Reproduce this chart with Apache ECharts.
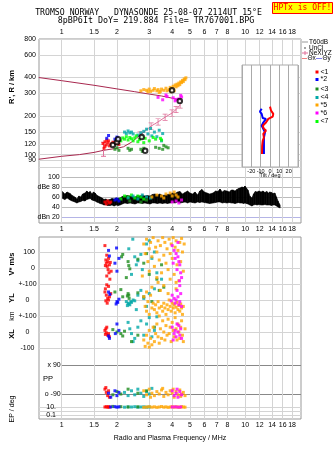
<!DOCTYPE html>
<html><head><meta charset="utf-8">
<script src="https://cdn.jsdelivr.net/npm/echarts@6.0.0/dist/echarts.min.js"></script>
<style>html,body{margin:0;padding:0;background:#fff;}#chart{width:335px;height:451px;}</style>
</head><body><div id="chart"></div>
<script>
// ---------------- tick labels ----------------
const freqTicks = [1, 1.5, 2, 3, 4, 5, 6, 7, 8, 10, 12, 14, 16, 18];
const heightTicks = [80, 90, 100, 120, 150, 200, 300, 400, 600, 800];
const tiltTicks = [-20, -10, 0, 10, 20];

// ---------------- R' panel (freq MHz, height km) ----------------
const profileUpper = [[0.75,400],[1,378],[1.5,348],[2,326],[2.5,310],[3,297],[3.5,287],[4,276],[4.5,265]];
const profileLower = [[0.75,92],[1,97],[1.25,100],[1.5,104],[1.69,108],[2,112],[2.17,115],[2.4,125],[2.67,142],[2.85,152]];
const neXIYZ = [[2.67,142],[3.07,167],[3.35,180],[3.66,196],[3.99,211],[4.2,225],[4.42,244]];
const neErrBar = [[1.69,97],[1.69,125]];
const rRed = [[1.68,122],[1.72,126],[1.75,119],[1.78,124],[1.72,116],[1.80,128],[1.85,121],[1.9,125],[1.95,124],[2.0,122],[2.05,120],[1.76,130],[1.7,112],[1.82,117]];
const rBlue = [[1.8,141],[1.76,134],[2.0,137],[1.95,132],[2.02,130]];
const rLime = [[2.1,128],[2.15,135],[2.2,132],[2.25,138],[2.3,130],[2.35,136],[2.4,133],[2.45,128],[2.5,135],[2.55,140],[2.6,126],[2.65,131],[2.75,138],[2.8,124],[2.85,134],[3.0,128],[3.15,136],[3.25,132],[3.45,134],[3.5,130]];
const rTeal = [[2.2,150],[2.25,146],[2.3,153],[2.35,148],[2.4,150],[2.45,145],[2.6,142],[2.7,148],[2.8,152],[2.9,158],[2.95,145],[3.05,160],[3.1,140],[3.2,150],[3.3,138],[3.4,155],[3.5,128],[3.55,146]];
const rDkGreen = [[1.95,110],[2.0,113],[2.05,108],[2.3,112],[2.35,108],[2.4,110],[2.7,110],[2.75,106],[2.8,112],[3.25,114],[3.4,112],[3.55,110],[3.6,118],[3.7,115],[3.8,113]];
const rOrange = [[2.7,315],[2.8,322],[2.9,318],[2.95,310],[3.0,325],[3.05,312],[3.15,318],[3.2,328],[3.3,315],[3.35,322],[3.4,305],[3.45,312],[3.5,325],[3.6,318],[3.7,330],[3.75,315],[3.85,322],[3.9,335],[3.95,310],[4.0,328],[4.05,342],[4.1,315],[4.15,350],[4.2,338],[4.25,355],[4.3,345],[4.35,362],[4.4,352],[4.45,370],[4.5,365],[4.55,380],[4.6,372],[4.65,390],[4.7,385],[4.75,398]];
const rMagenta = [[3.35,280],[3.55,268],[3.7,292],[3.75,284],[4.05,278],[4.15,263],[4.2,270],[4.35,272],[4.45,290],[4.5,282]];
const rBlack = [[1.9,119],[2.0,125],[2.03,132],[2.73,137],[2.85,107],[3.99,318],[4.4,262]];

// ---------------- tilt inset (deg, height km) ----------------
const thetaX = [[0,237],[1.1,221],[3.5,208],[2.9,198],[-1.8,190],[-4.3,178],[-7.8,168],[-6.5,159],[-4.3,154],[-7.2,145],[-6.5,136],[-7.8,128],[-8.4,117],[-8.6,101]];
const thetaY = [[-8.9,228],[-10.8,217],[-8.9,208],[-7.8,193],[-4.3,190],[-7.2,178],[-8.9,168],[-7.2,159],[-5.4,149],[-6.5,136],[-6.5,117],[-6.5,101]];

// ---------------- amplitude panel (freq, low dB, high dB) ----------------
const t60Band = [[1.01,57,71],[1.04,55,66],[1.07,58,70],[1.11,54,67],[1.14,52,63],[1.18,50,60],[1.21,48,56],[1.24,50,62],[1.27,51,60],[1.30,53,66],[1.34,52,68],[1.37,55,72],[1.40,56,69],[1.43,57,71],[1.46,54,66],[1.49,53,70],[1.52,52,68],[1.55,50,64],[1.58,49,62],[1.62,47,60],[1.66,46,58],[1.70,44,55],[1.74,45,56],[1.78,43,54],[1.83,43,55],[1.88,44,57],[1.93,42,56],[1.98,44,58],[2.03,43,57],[2.08,44,58],[2.14,46,61],[2.21,48,62],[2.28,47,63],[2.36,48,62],[2.43,47,61],[2.51,46,60],[2.59,48,63],[2.67,48,62],[2.75,47,64],[2.84,48,62],[2.93,47,63],[3.03,46,62],[3.12,48,65],[3.22,48,66],[3.32,47,64],[3.43,48,66],[3.54,47,63],[3.66,48,64],[3.77,47,65],[3.89,48,66],[4.02,49,68],[4.15,48,67],[4.28,50,70],[4.41,48,71],[4.55,49,66],[4.70,50,69],[4.85,48,72],[5.0,50,68],[5.16,49,66],[5.33,48,70],[5.5,50,64],[5.65,49,72],[5.8,50,75],[6.0,49,70],[6.19,48,68],[6.4,47,66],[6.67,48,68],[6.9,49,72],[7.1,50,71],[7.29,50,76],[7.5,48,70],[7.7,49,73],[7.95,48,72],[8.2,49,70],[8.4,48,74],[8.58,48,74],[8.8,47,72],[9.0,48,75],[9.2,49,77],[9.36,48,78],[9.6,48,80],[9.8,47,79],[9.97,48,82],[10.15,47,78],[10.35,46,74],[10.6,44,62],[10.88,42,58],[11.1,44,66],[11.35,45,71],[11.6,44,70],[11.9,45,72],[12.2,44,70],[12.5,44,72],[12.8,45,69],[13.1,44,71],[13.4,44,68],[13.6,44,70],[13.9,43,69],[14.2,44,67],[14.5,44,68],[14.8,42,60],[15.1,40,52],[15.3,39,47],[15.5,38,44]];
const dbRed = [[1.72,50],[1.75,46],[1.78,52],[1.82,48],[1.85,50]];
const dbBlue = [[1.95,54],[2.0,56],[2.05,52]];
const dbLime = [[2.1,56],[2.2,62],[2.3,60],[2.4,64],[2.5,58],[2.6,62],[2.7,60],[2.8,56]];
const dbTeal = [[2.3,58],[2.45,62],[2.6,56],[2.75,64],[2.9,60],[3.05,58]];
const dbDkGreen = [[2.35,52],[2.7,50],[2.9,54]];
const dbOrange = [[3.1,60],[3.3,64],[3.5,62],[3.6,58],[3.7,66],[3.9,68],[4.0,62],[4.1,70],[4.2,64],[4.3,60]];
const dbMagenta = [[4.0,50],[4.2,52],[4.35,48],[4.5,54]];

// ---------------- V* (m/s) ----------------
const vRed = [[1.72,140],[1.76,80],[1.74,50],[1.78,40],[1.80,60],[1.75,30],[1.82,20],[1.77,10],[1.84,35],[1.79,-10],[1.81,-30],[1.76,-50],[1.83,-70],[1.86,-20],[1.73,15]];
const vBlue = [[1.80,110],[1.82,75],[1.99,125],[2.05,60],[2.0,-20],[1.95,30]];
const vDkGreen = [[2.12,70],[2.15,85],[2.3,40],[2.32,15],[2.35,-5],[2.25,-60],[2.6,55],[2.8,30],[2.9,90],[3.0,-40],[3.3,-70],[3.5,20]];
const vTeal = [[2.32,120],[2.44,180],[2.5,70],[2.6,45],[2.7,85],[2.55,20],[2.9,150],[3.0,170],[3.1,60],[3.3,-30],[3.5,-70],[2.75,-10],[3.2,100],[2.4,-40]];
const vOrange = [[2.75,-50],[2.8,150],[2.85,90],[2.9,180],[2.95,40],[3.0,120],[3.0,-20],[3.05,160],[3.1,70],[3.15,190],[3.2,10],[3.25,130],[3.3,100],[3.3,-60],[3.35,170],[3.35,-90],[3.4,50],[3.45,140],[3.5,-30],[3.55,190],[3.6,80],[3.65,160],[3.7,30],[3.75,120],[3.8,-10],[3.85,180],[3.9,90],[3.9,-70],[3.95,150],[4.0,60],[4.05,190],[4.1,-40],[4.15,130],[4.2,170],[4.2,-90],[4.25,20],[4.3,110],[4.35,-80],[4.4,160],[4.45,40],[4.5,185],[4.55,100],[4.6,-20],[4.65,150]];
const vMagenta = [[4.0,140],[4.05,30],[4.1,110],[4.15,60],[4.2,90],[4.25,-10],[4.3,70],[4.3,160],[4.35,40],[4.38,-80],[4.4,20],[4.45,-30],[4.5,-60]];

// ---------------- YL (km) ----------------
const ylRed = [[1.72,50],[1.73,70],[1.75,30],[1.76,95],[1.78,10],[1.8,0],[1.8,85],[1.74,-5],[1.82,20],[1.85,40],[1.77,-20]];
const ylBlue = [[1.8,50],[1.83,35],[2.0,-10],[2.02,-15],[2.05,5],[1.98,-25]];
const ylDkGreen = [[1.95,50],[2.1,65],[2.15,20],[2.28,25],[2.3,40],[2.32,30],[2.33,10],[2.6,45],[2.8,20],[3.1,-10],[3.4,60],[3.6,80]];
const ylTeal = [[2.25,-10],[2.28,-35],[2.3,-20],[2.32,-25],[2.35,-30],[2.38,-10],[2.4,-15],[2.45,0],[2.5,-5],[2.55,-60],[2.6,30],[2.7,60],[2.8,10],[2.9,-40],[3.0,40],[3.2,70]];
const ylOrange = [[2.8,20],[2.85,-40],[2.9,-70],[2.9,50],[2.95,-10],[3.0,-90],[3.05,30],[3.1,-50],[3.1,80],[3.15,-20],[3.2,-60],[3.25,-30],[3.3,-80],[3.35,-10],[3.4,-50],[3.45,60],[3.5,-40],[3.55,-70],[3.6,-20],[3.6,90],[3.65,-50],[3.7,-90],[3.75,-30],[3.8,-60],[3.8,40],[3.85,0],[3.9,-40],[3.95,-70],[4.0,-20],[4.05,-50],[4.1,-30],[4.15,-80],[4.2,-45],[4.2,70],[4.25,-15],[4.3,-60],[4.35,-35],[4.4,-70],[4.45,-25],[4.5,-50],[4.55,-90],[4.6,-40]];
const ylMagenta = [[3.95,-5],[4.0,30],[4.1,10],[4.15,-20],[4.2,0],[4.25,60],[4.3,20],[4.35,-30],[4.4,-10],[4.4,90],[4.45,40],[4.5,-40]];

// ---------------- XL (km) ----------------
const xlRed = [[1.72,10],[1.73,-15],[1.74,20],[1.75,-5],[1.76,30],[1.78,-20],[1.8,-10],[1.82,-30]];
const xlBlue = [[1.8,-25],[1.82,-40],[1.96,-10],[2.0,50],[2.05,10]];
const xlDkGreen = [[1.9,15],[2.0,0],[2.1,-10],[2.15,-25],[2.2,5],[2.4,-60],[2.6,-20],[3.2,30]];
const xlTeal = [[2.3,60],[2.35,20],[2.4,-10],[2.45,-60],[2.5,-40],[2.6,30],[2.7,70],[2.8,-20],[2.9,50],[3.0,90],[3.1,-30],[3.2,10],[3.3,95]];
const xlOrange = [[2.8,-50],[2.85,-90],[2.9,-20],[2.95,-70],[3.0,10],[3.0,-95],[3.05,-40],[3.1,-80],[3.15,30],[3.2,-60],[3.25,-10],[3.3,50],[3.35,-30],[3.4,-70],[3.4,100],[3.45,20],[3.5,-40],[3.55,70],[3.6,0],[3.65,-50],[3.7,40],[3.75,-20],[3.8,80],[3.85,-10],[3.9,30],[3.95,-60],[4.0,60],[4.05,10],[4.1,-30],[4.15,90],[4.2,20],[4.25,-50],[4.3,50],[4.35,0],[4.4,-40],[4.45,30],[4.5,70],[4.55,-20],[4.6,-60],[4.7,20]];
const xlMagenta = [[4.0,30],[4.05,-50],[4.1,-10],[4.15,10],[4.2,-30],[4.25,50],[4.3,0],[4.35,40],[4.4,-20],[4.45,20],[4.5,-40]];

// ---------------- PP (deg) ----------------
const ppRed = [[1.72,-60],[1.74,-50],[1.75,-80],[1.78,-100],[1.8,-70],[1.82,-110]];
const ppBlue = [[1.8,-85],[1.85,-110],[1.95,-70],[2.0,-100],[2.05,-80]];
const ppDkGreen = [[1.9,-95],[2.0,-75],[2.1,-90],[2.3,-60],[2.6,-85],[2.9,-70]];
const ppTeal = [[2.2,-80],[2.3,-100],[2.4,-70],[2.5,-95],[2.6,-60],[2.7,-85],[2.8,-105],[2.9,-75],[3.0,-90],[3.1,-55]];
const ppOrange = [[2.8,-70],[2.9,-95],[3.0,-60],[3.05,-110],[3.1,-85],[3.2,-100],[3.3,-75],[3.4,-90],[3.5,-65],[3.55,-55],[3.6,-105],[3.7,-80],[3.8,-95],[3.9,-70],[4.0,-85],[4.05,-60],[4.1,-110],[4.2,-75],[4.3,-95],[4.4,-65],[4.45,-105],[4.5,-90],[4.6,-80],[4.7,-100]];
const ppMagenta = [[4.0,-70],[4.1,-100],[4.2,-85],[4.25,-60],[4.3,-110],[4.4,-75],[4.5,-95]];

// ---------------- EP (deg) ----------------
const epRed = [[1.72,10],[1.75,12],[1.78,9],[1.8,11],[1.82,10]];
const epBlue = [[1.85,10],[1.95,12],[2.0,9],[2.05,11]];
const epDkGreen = [[1.9,14],[2.1,12],[2.3,10],[2.6,11]];
const epTeal = [[2.2,9],[2.3,11],[2.4,10],[2.5,12],[2.6,9],[2.7,10],[2.8,11],[2.9,9],[3.0,10]];
const epOrange = [[2.8,8],[2.9,10],[3.0,12],[3.1,9],[3.2,11],[3.3,8],[3.4,10],[3.5,13],[3.6,9],[3.7,11],[3.8,8],[3.9,10],[4.0,12],[4.1,9],[4.2,11],[4.3,10],[4.4,8],[4.5,12],[4.6,10],[4.7,9]];
const epMagenta = [[4.0,10],[4.15,11],[4.3,9],[4.45,10]];

// ---------------- styling / build ----------------
const L = Math.log10;
const FONT = '"Liberation Sans", Arial, sans-serif';
const COL = {red:'#ff0000', blue:'#0000ff', dkgreen:'#1e8c1e', teal:'#00a8a8', orange:'#ffa500', magenta:'#ff00ff', lime:'#00ff00'};
const GRID_C = '#d4d4d4';
const X_MIN = -0.1237, X_MAX = 1.304;           // log10 MHz range of the frame
const R_MAX = L(800), R_MIN = L(800) - 1.4375;   // log10 km range of the top frame
const lx = d => d.map(p => [L(p[0]), p[1]]);
const lxy = d => d.map(p => [L(p[0]), L(p[1])]);
const fmtF = v => String(Math.round(Math.pow(10, v) * 10) / 10);

const lbl = (extra) => Object.assign({fontSize: 7, fontFamily: FONT, color: '#000'}, extra || {});

function xAx(gi, o) {
  return Object.assign({type:'value', gridIndex: gi, min: X_MIN, max: X_MAX, show: true,
    axisLine:{show:false}, axisTick:{show:false, customValues: freqTicks.map(L)},
    axisLabel:{show:false, customValues: freqTicks.map(L), formatter: fmtF},
    splitLine:{show:false}}, o || {});
}

const grid = [
  {left:39, top:39, width:262, height:184, show:true, borderColor:'#999', borderWidth:1, backgroundColor:'transparent'}, //0 R'
  {left:61.7, top:177, width:239.3, height:40},                 //1 dB
  {left:242, top:65, width:56, height:102},                     //2 tilt inset
  {left:39, top:237, width:262, height:182, show:true, borderColor:'#999', borderWidth:1, backgroundColor:'transparent'}, //3 lower frame
  {left:39, top:236, width:262, height:48},                     //4 V*
  {left:39, top:284, width:262, height:32},                     //5 YL
  {left:39, top:316, width:262, height:32},                     //6 XL
  {left:61.7, top:365, width:239.3, height:36},                 //7 PP
  {left:39, top:401, width:262, height:18}                      //8 EP
];

const xAxis = [
  xAx(0, {position:'bottom', axisLabel: lbl({show:true, customValues: freqTicks.map(L), formatter: fmtF, margin:3}), splitLine:{show:true, lineStyle:{color:GRID_C, width:1}}}),
  xAx(0, {position:'top', axisLabel: lbl({show:true, customValues: freqTicks.map(L), formatter: fmtF, margin:3})}),
  xAx(1, {min: 0, show:false}),
  {type:'value', gridIndex:2, min:-30, max:30, interval:10, z:2,
    axisLine:{show:false}, axisTick:{show:false},
    axisLabel: lbl({fontSize:5.5, margin:1, formatter: v => tiltTicks.includes(v) ? String(v) : ''}),
    splitLine:{show:true, lineStyle:{color:'#aaa'}}},
  xAx(3, {position:'bottom', axisLabel: lbl({show:true, customValues: freqTicks.map(L), formatter: fmtF, margin:3}), splitLine:{show:true, lineStyle:{color:GRID_C, width:1}}}),
  xAx(4, {show:false}), xAx(5, {show:false}), xAx(6, {show:false}),
  xAx(7, {min:0, show:false}), xAx(8, {show:false})
];

function yAx(gi, min, max, ticks, fmt, o) {
  return Object.assign({type:'value', gridIndex: gi, min, max,
    axisLine:{show:false}, axisTick:{show:false, customValues: ticks},
    axisLabel: lbl({customValues: ticks, formatter: fmt, margin: 3}),
    splitLine:{show:true, lineStyle:{color:GRID_C}}}, o || {});
}

const yAxis = [
  yAx(0, R_MIN, R_MAX, heightTicks.map(L), v => String(Math.round(Math.pow(10, v)))),
  {type:'value', gridIndex:1, min:20, max:100, interval:20,
    axisLine:{show:false}, axisTick:{show:false},
    axisLabel: lbl({margin:2, formatter: v => v === 80 ? 'dBe 80' : (v === 20 ? 'dBn 20' : String(v))}),
    splitLine:{show:true, lineStyle:{color:['#b4b4e6','#bbb','#bbb','#bbb','#bbb'], width:1}}},
  {type:'value', gridIndex:2, min: L(80), max: R_MAX - 26/128, show:false},
  {type:'value', gridIndex:3, min:0, max:1, show:false},
  yAx(4, -100, 200, [0, 100], v => String(v), {axisLabel: lbl({customValues:[0,100], formatter: v => String(v), margin:4})}),
  yAx(5, -100, 100, [0, 100], v => v === 0 ? '0' : '+-100', {axisLabel: lbl({customValues:[0,100], formatter: v => v === 0 ? '0' : '+-100', margin:11.5, align:'center'})}),
  yAx(6, -100, 100, [-100, 0, 100], v => v === 0 ? '0' : (v > 0 ? '+-100' : '-100'), {axisLabel: lbl({customValues:[-100,0,100], formatter: v => v === 0 ? '0' : (v > 0 ? '+-100' : '-100'), margin:11.5, align:'center'})}),
  yAx(7, -133.4, 90, [-90, 90], v => v > 0 ? 'x 90' : 'o -90', {axisLabel: lbl({customValues:[-90,90], formatter: v => v > 0 ? 'x 90' : 'o -90', margin:1}), splitLine:{show:true, lineStyle:{color:'#888'}}}),
  yAx(8, -2, 2.5, [-1, 0, 1], v => v > 0 ? '10.' : '0.1', {axisLabel: lbl({customValues:[-1,1], formatter: v => v > 0 ? '10.' : '0.1', margin:-17})})
];

function scat(data, xi, yi, color, size, z) {
  return {type:'scatter', xAxisIndex:xi, yAxisIndex:yi, symbol:'rect', symbolSize:size,
    itemStyle:{color}, data, silent:true, z: z || 2, animation:false};
}

const series = [];
// R' panel
series.push({type:'line', xAxisIndex:0, yAxisIndex:0, data: lxy(profileUpper), symbol:'none', lineStyle:{color:'#a8284f', width:1}, z:2});
series.push({type:'line', xAxisIndex:0, yAxisIndex:0, data: lxy(profileLower), symbol:'none', lineStyle:{color:'#a8284f', width:1}, z:2});
series.push({type:'line', xAxisIndex:0, yAxisIndex:0, data: lxy(neErrBar), symbol:'rect', symbolSize:[5,1], itemStyle:{color:'#e0709a'}, lineStyle:{color:'#e0709a', width:1}, z:3});
series.push({type:'line', xAxisIndex:0, yAxisIndex:0, data: lxy(neXIYZ), symbol:'path://M0,0H6V1H3.5V9H6V10H0V9H2.5V1H0Z', symbolSize:[5,7], showAllSymbol:true, itemStyle:{color:'#e0709a'}, lineStyle:{color:'#e0709a', width:1}, z:3});
[[rTeal,COL.teal],[rLime,COL.lime],[rDkGreen,COL.dkgreen],[rRed,COL.red],[rBlue,COL.blue],[rOrange,COL.orange],[rMagenta,COL.magenta]].forEach(([d,c]) => series.push(scat(lxy(d), 0, 0, c, 3, 4)));
series.push({type:'scatter', xAxisIndex:0, yAxisIndex:0, data: lxy(rBlack), symbol:'emptyCircle', symbolSize:4.5, itemStyle:{color:'#000', borderColor:'#000', borderWidth:1.4}, z:5, silent:true});

// tilt inset
series.push({type:'line', xAxisIndex:3, yAxisIndex:2, data: thetaY.map(p => [p[0], L(p[1])]), symbol:'none', lineStyle:{color:'#0000ff', width:2}, z:6});
series.push({type:'line', xAxisIndex:3, yAxisIndex:2, data: thetaX.map(p => [p[0], L(p[1])]), symbol:'none', lineStyle:{color:'#ff0000', width:2}, z:7});

// amplitude band
const bandData = t60Band.map(p => [L(p[0]), p[1], p[2]]);
series.push({type:'custom', xAxisIndex:2, yAxisIndex:1, data: bandData, encode:{x:0, y:[1,2]}, silent:true, z:2,
  renderItem: (params, api) => {
    const i = params.dataIndex;
    if (i >= bandData.length - 1) return null;
    const a = bandData[i], b = bandData[i + 1];
    const pts = [api.coord([a[0], a[1]]), api.coord([a[0], a[2]]), api.coord([b[0], b[2]]), api.coord([b[0], b[1]])];
    return {type:'polygon', shape:{points: pts}, style:{fill:'#000', stroke:'#000', lineWidth:0.6}};
  }});
[[dbLime,COL.lime],[dbTeal,COL.teal],[dbDkGreen,COL.dkgreen],[dbRed,COL.red],[dbBlue,COL.blue],[dbOrange,COL.orange],[dbMagenta,COL.magenta]].forEach(([d,c]) => series.push(scat(lx(d), 2, 1, c, 3, 4)));

// lower panels
const lowerSets = [
  {c:COL.teal, v:vTeal, yl:ylTeal, xl:xlTeal, pp:ppTeal, ep:epTeal},
  {c:COL.dkgreen, v:vDkGreen, yl:ylDkGreen, xl:xlDkGreen, pp:ppDkGreen, ep:epDkGreen},
  {c:COL.orange, v:vOrange, yl:ylOrange, xl:xlOrange, pp:ppOrange, ep:epOrange},
  {c:COL.red, v:vRed, yl:ylRed, xl:xlRed, pp:ppRed, ep:epRed},
  {c:COL.blue, v:vBlue, yl:ylBlue, xl:xlBlue, pp:ppBlue, ep:epBlue},
  {c:COL.magenta, v:vMagenta, yl:ylMagenta, xl:xlMagenta, pp:ppMagenta, ep:epMagenta}
];
lowerSets.forEach(s => {
  series.push(scat(lx(s.v), 5, 4, s.c, 3));
  series.push(scat(lx(s.yl), 6, 5, s.c, 3));
  series.push(scat(lx(s.xl), 7, 6, s.c, 3));
  series.push(scat(lx(s.pp), 8, 7, s.c, 3));
  series.push(scat(lxy(s.ep), 9, 8, s.c, 3));
});

// ---------------- text / decorations ----------------
function txt(x, y, text, o) {
  o = o || {};
  return {type:'text', x, y, rotation: o.rot || 0, z: 20, silent:true,
    style:{text, fill: o.color || '#000', font: o.font || ('7px ' + FONT),
      align: o.align || 'left', textAlign: o.align || 'left', verticalAlign: 'middle', textVerticalAlign:'middle'}};
}
const MONO = '"DejaVu Sans Mono", "Liberation Mono", monospace';
const graphic = [
  txt(148.5, 12.5, 'TROMSO NORWAY   DYNASONDE 25-08-07 2114UT 15°E', {font: '8.2px ' + MONO, align:'center'}),
  txt(156, 20.5, '8pBP6It DoY= 219.884 File= TR767001.BPG', {font: '8.4px ' + MONO, align:'center'}),
  {type:'rect', z:20, shape:{x:272.5, y:2.5, width:60, height:11}, style:{fill:'#ffff00', stroke:'#ff0000', lineWidth:1}},
  txt(302.5, 8.3, 'HPTx is OFF!', {font: '8px ' + MONO, align:'center', color:'#ff0000'}),
  // inset background
  {type:'rect', z:1, silent:true, shape:{x:242, y:65, width:56, height:102}, style:{fill:'#fff', stroke:'#aaa', lineWidth:1}},
  txt(270, 175.5, 'Tilt / deg', {font: '5.5px ' + FONT, align:'center'}),
  // axis names
  txt(12, 87, "R', R / km", {rot: Math.PI/2, align:'center', font: 'bold 7.5px ' + FONT}),
  txt(12, 264, 'V* m/s', {rot: Math.PI/2, align:'center', font: 'bold 7.5px ' + FONT}),
  txt(12, 298, 'YL', {rot: Math.PI/2, align:'center', font: 'bold 7.5px ' + FONT}),
  txt(12, 316, 'km', {rot: Math.PI/2, align:'center', font: '7px ' + FONT}),
  txt(12, 334, 'XL', {rot: Math.PI/2, align:'center', font: 'bold 7.5px ' + FONT}),
  txt(43, 379, 'PP', {font: '7.5px ' + FONT}),
  txt(12, 409, 'EP / deg', {rot: Math.PI/2, align:'center', font: '7px ' + FONT}),
  txt(170, 438.5, 'Radio and Plasma Frequency / MHz', {align:'center', font: '7px ' + FONT}),
  // legend
  {type:'line', z:20, shape:{x1:302, y1:42, x2:308, y2:42}, style:{stroke:'#999', lineWidth:1}},
  txt(309, 42, 'T60dB', {font: '6.5px ' + FONT}),
  {type:'circle', z:20, shape:{cx:305, cy:48, r:0.7}, style:{fill:'#000'}},
  txt(309, 48, 'UnCl', {font: '6.5px ' + FONT}),
  {type:'line', z:20, shape:{x1:302, y1:53, x2:308, y2:53}, style:{stroke:'#e0709a', lineWidth:1}},
  {type:'line', z:20, shape:{x1:305, y1:51, x2:305, y2:55}, style:{stroke:'#e0709a', lineWidth:1}},
  txt(309, 53, 'NeXIYZ', {font: '6.5px ' + FONT}),
  {type:'line', z:20, shape:{x1:302, y1:58.5, x2:307, y2:58.5}, style:{stroke:'#f08080', lineWidth:1}},
  txt(307.5, 58.5, 'Θx', {font: '6.5px ' + FONT}),
  {type:'line', z:20, shape:{x1:316, y1:58.5, x2:322, y2:58.5}, style:{stroke:'#8080f0', lineWidth:1}},
  txt(322.5, 58.5, 'Θy', {font: '6.5px ' + FONT})
];
const legendItems = [['<1',COL.red,72],['*2',COL.blue,79.5],['<3',COL.dkgreen,89],['<4',COL.teal,97.5],['*5',COL.orange,105],['*6',COL.magenta,113],['<7',COL.lime,121.5]];
legendItems.forEach(([t,c,y]) => {
  graphic.push({type:'rect', z:20, shape:{x:315.5, y:y-1.5, width:3, height:3}, style:{fill:c}});
  graphic.push(txt(320.5, y, t, {font: '7px ' + FONT}));
});

const chart = echarts.init(document.getElementById('chart'), null, {renderer:'canvas'});
chart.setOption({animation:false, backgroundColor:'#fff', grid, xAxis, yAxis, series, graphic});
</script></body></html>
